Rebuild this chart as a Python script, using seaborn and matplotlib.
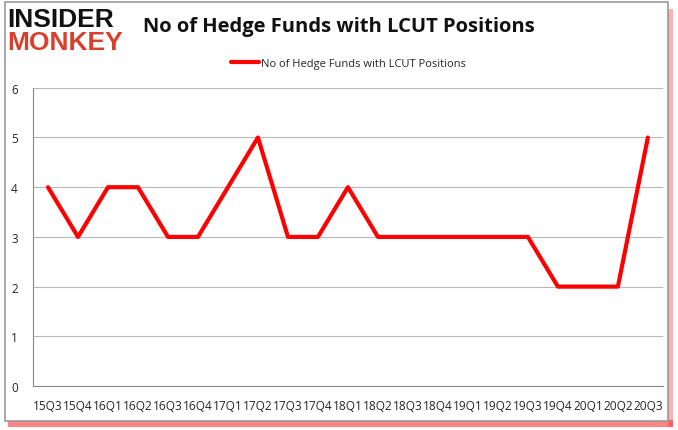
import matplotlib
matplotlib.use('Agg')
import matplotlib.pyplot as plt
import seaborn as sns
import numpy as np
import pandas as pd
from matplotlib.patches import Rectangle

# Data
quarters = ['15Q3', '15Q4', '16Q1', '16Q2', '16Q3', '16Q4', '17Q1', '17Q2', '17Q3', '17Q4',
            '18Q1', '18Q2', '18Q3', '18Q4', '19Q1', '19Q2', '19Q3', '19Q4', '20Q1', '20Q2', '20Q3']
funds = [4, 3, 4, 4, 3, 3, 4, 5, 3, 3, 4, 3, 3, 3, 3, 3, 3, 2, 2, 2, 5]
series_name = 'No of Hedge Funds with LCUT Positions'

sns.set_style('white')
plt.rcParams['font.family'] = ['Open Sans', 'DejaVu Sans']

df = pd.DataFrame({'pos': np.arange(len(quarters)), 'funds': funds})

fig = plt.figure(figsize=(6.78, 4.31), dpi=100)
ax = fig.add_axes([0.0487, 0.102, 0.929, 0.692])
ax.patch.set_alpha(0)

sns.lineplot(data=df, x='pos', y='funds', color='#ff0000', linewidth=3,
             label=series_name, ax=ax, sort=False)

ax.set_xlim(-0.5, len(quarters) - 0.5)
ax.set_ylim(0, 6)
ax.set_yticks(range(0, 7))
ax.set_xticks(np.arange(len(quarters)))
ax.set_xticklabels(quarters, fontsize=8.6)
ax.set_xticks(np.arange(-0.5, len(quarters)), minor=True)
ax.tick_params(axis='x', which='major', length=0, pad=9)
ax.tick_params(axis='x', which='minor', length=5, color='#888888', direction='out')
ax.tick_params(axis='y', labelsize=8.5, length=4, color='#888888', pad=7)
ax.set_xlabel('')
ax.set_ylabel('')
ax.grid(axis='y', color='#b8b8b8', linewidth=0.8)
for side in ['top', 'right']:
    ax.spines[side].set_visible(False)
for side in ['left', 'bottom']:
    ax.spines[side].set_color('#888888')
    ax.spines[side].set_linewidth(0.8)

leg = ax.legend(loc='lower center', bbox_to_anchor=(0.5, 1.03), frameon=False,
                fontsize=8, handlelength=2.6, handletextpad=0.1)

# Title
fig.text(0.5, 0.937, series_name, ha='center', va='center', fontsize=14.5,
         fontweight='bold', color='#111111')

# Logo
fig.text(0.011, 0.954, 'INSIDER', ha='left', va='center', fontsize=19,
         fontweight='black', color='#111111', family=['Liberation Sans', 'DejaVu Sans'])
fig.text(0.011, 0.901, 'MONKEY', ha='left', va='center', fontsize=19,
         fontweight='black', color='#d9402c', family=['Liberation Sans', 'DejaVu Sans'])

# Frame with red shadow (behind the axes)
fig.patches.append(Rectangle((0.012, 0.007), 0.981, 0.016, transform=fig.transFigure,
                             color='#ff2020', alpha=0.55, zorder=-3, linewidth=0))
fig.patches.append(Rectangle((0.985, 0.007), 0.008, 0.97, transform=fig.transFigure,
                             color='#ff2020', alpha=0.35, zorder=-3, linewidth=0))
fig.patches.append(Rectangle((0.007, 0.021), 0.978, 0.972, transform=fig.transFigure,
                             facecolor='white', edgecolor='#999999', linewidth=1.2, zorder=-2))

fig.savefig('out.png', dpi=100)
